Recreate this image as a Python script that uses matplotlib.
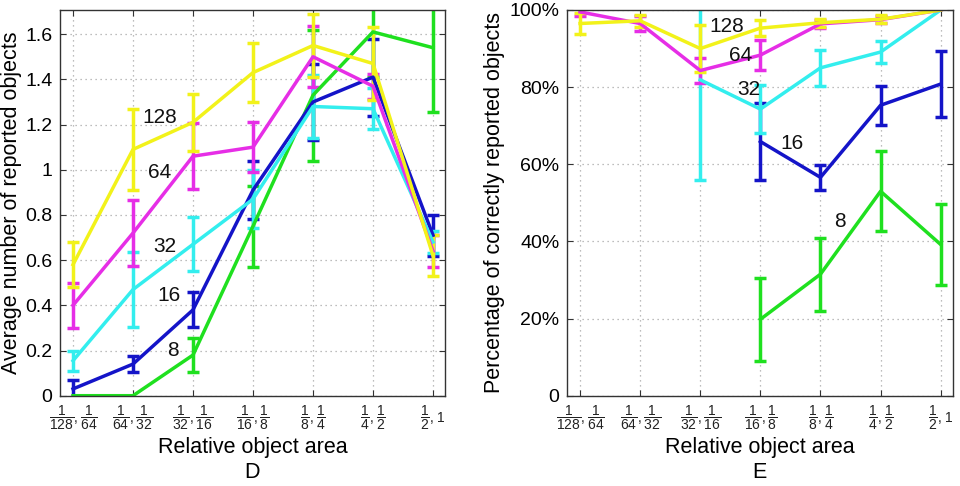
import numpy as np
import matplotlib
matplotlib.use("Agg")
import matplotlib.pyplot as plt

plt.rcParams['font.family'] = ['Liberation Sans', 'DejaVu Sans']
plt.rcParams['mathtext.default'] = 'regular'

nan = np.nan

# categories: relative object area bins
area_lo = ['128', '64', '32', '16', '8', '4', '2']
area_hi = ['64', '32', '16', '8', '4', '2', '1']

series_names = ['8', '16', '32', '64', '128']
series_colors = ['#1fe01f', '#1414c8', '#33eeee', '#e62ee6', '#f2f21a']

# Panel D: average number of reported objects
avg_8 = [0.0, 0.0, 0.18, 0.75, 1.33, 1.61, 1.54]
avg_8_err = [nan, nan, 0.075, 0.18, 0.29, 0.20, 0.285]
avg_16 = [0.03, 0.14, 0.38, 0.91, 1.30, 1.41, 0.71]
avg_16_err = [0.04, 0.035, 0.077, 0.13, 0.17, 0.17, 0.09]
avg_32 = [0.155, 0.47, 0.67, 0.87, 1.28, 1.27, 0.68]
avg_32_err = [0.045, 0.165, 0.12, 0.13, 0.14, 0.09, 0.05]
avg_64 = [0.40, 0.72, 1.06, 1.10, 1.50, 1.37, 0.64]
avg_64_err = [0.10, 0.145, 0.145, 0.11, 0.135, 0.055, 0.07]
avg_128 = [0.58, 1.09, 1.21, 1.43, 1.55, 1.47, 0.62]
avg_128_err = [0.10, 0.18, 0.125, 0.13, 0.14, 0.16, 0.09]

# Panel E: percentage of correctly reported objects
pct_8 = [nan, nan, nan, 19.8, 31.5, 53.0, 39.2]
pct_8_err = [nan, nan, nan, 10.8, 9.5, 10.4, 10.5]
pct_16 = [nan, nan, nan, 65.9, 56.6, 75.3, 80.8]
pct_16_err = [nan, nan, nan, 10.0, 3.3, 5.0, 8.6]
pct_32 = [nan, nan, 81.9, 74.3, 85.0, 89.1, 100.0]
pct_32_err = [nan, nan, 26.0, 6.2, 4.7, 2.8, nan]
pct_64 = [99.5, 96.5, 84.3, 88.3, 96.4, 97.5, 100.0]
pct_64_err = [1.0, 2.0, 3.3, 3.9, 1.0, 1.0, nan]
pct_128 = [96.5, 97.2, 90.0, 95.3, 96.7, 97.6, 100.0]
pct_128_err = [2.7, 1.5, 6.0, 2.0, 1.0, 1.0, nan]

# curve label positions (data coords)
lab_D_x = [2.67, 2.6, 2.53, 2.45, 2.45]
lab_D_y = [0.20, 0.445, 0.66, 0.99, 1.233]
lab_E_x = [5.32, 4.53, 3.8, 3.667, 3.445]
lab_E_y = [45.1, 65.4, 79.3, 88.3, 95.7]

xlabels = []
for lo, hi in zip(area_lo, area_hi):
    if hi == '1':
        xlabels.append(r'$\dfrac{1}{%s},1$' % lo)
    else:
        xlabels.append(r'$\dfrac{1}{%s},\dfrac{1}{%s}$' % (lo, hi))

x = np.arange(1, len(area_lo) + 1)

fig = plt.figure(figsize=(9.6, 4.86), dpi=100)
W, H = 960.0, 486.0
axD = fig.add_axes([60 / W, (H - 395.7) / H, 385 / W, 385.7 / H])
axE = fig.add_axes([567 / W, (H - 395.7) / H, 385.7 / W, 385.7 / H])

D_vals = [avg_8, avg_16, avg_32, avg_64, avg_128]
D_errs = [avg_8_err, avg_16_err, avg_32_err, avg_64_err, avg_128_err]
E_vals = [pct_8, pct_16, pct_32, pct_64, pct_128]
E_errs = [pct_8_err, pct_16_err, pct_32_err, pct_64_err, pct_128_err]

def style(ax):
    ax.set_xlim(0.783, 7.2)
    ax.set_xticks(x)
    ax.set_xticklabels(xlabels)
    ax.grid(True, color='#a8a8a8', linestyle=(0, (1, 3)), linewidth=0.9)
    ax.set_axisbelow(True)
    ax.tick_params(direction='in', top=True, right=True, length=4,
                   color='#333333')
    ax.tick_params(axis='x', pad=5.5, labelsize=10, labelcolor='#222222')
    ax.tick_params(axis='y', pad=5.5, labelsize=14)
    for s in ax.spines.values():
        s.set_color('#333333')
        s.set_linewidth(1.0)

for vals, errs, col in zip(D_vals, D_errs, series_colors):
    axD.errorbar(x, vals, yerr=errs, color=col, lw=2.5, elinewidth=2.5,
                 capsize=4.5, capthick=2.5)
for vals, errs, col in zip(E_vals, E_errs, series_colors):
    axE.errorbar(x, vals, yerr=errs, color=col, lw=2.5, elinewidth=2.5,
                 capsize=4.5, capthick=2.5)

style(axD)
style(axE)

axD.set_ylim(0, 1.707)
axD.set_yticks([0, 0.2, 0.4, 0.6, 0.8, 1.0, 1.2, 1.4, 1.6])
axD.set_yticklabels(['0', '0.2', '0.4', '0.6', '0.8', '1', '1.2', '1.4', '1.6'])
axE.set_ylim(0, 100)
axE.set_yticks([0, 20, 40, 60, 80, 100])
axE.set_yticklabels(['0', '20%', '40%', '60%', '80%', '100%'])

for name, lx, ly in zip(series_names, lab_D_x, lab_D_y):
    axD.text(lx, ly, name, fontsize=15, ha='center', va='center', color='#111111')
for name, lx, ly in zip(series_names, lab_E_x, lab_E_y):
    axE.text(lx, ly, name, fontsize=15, ha='center', va='center', color='#111111')

axD.set_ylabel('Average number of reported objects', fontsize=15.5)
axD.yaxis.set_label_coords(-0.099, 0.5)
axE.set_ylabel('Percentage of correctly reported objects', fontsize=15.5)
axE.yaxis.set_label_coords(-0.161, 0.5)
for ax in (axD, axE):
    ax.set_xlabel('Relative object area', fontsize=15.5)
    ax.xaxis.set_label_coords(0.5, -0.108)

fig.text((60 + 445) / 2 / W, 1 - 472.5 / H, 'D', fontsize=15.5, ha='center', va='center')
fig.text((567 + 952.7) / 2 / W, 1 - 472.5 / H, 'E', fontsize=15.5, ha='center', va='center')

fig.savefig('out.png', dpi=100)
